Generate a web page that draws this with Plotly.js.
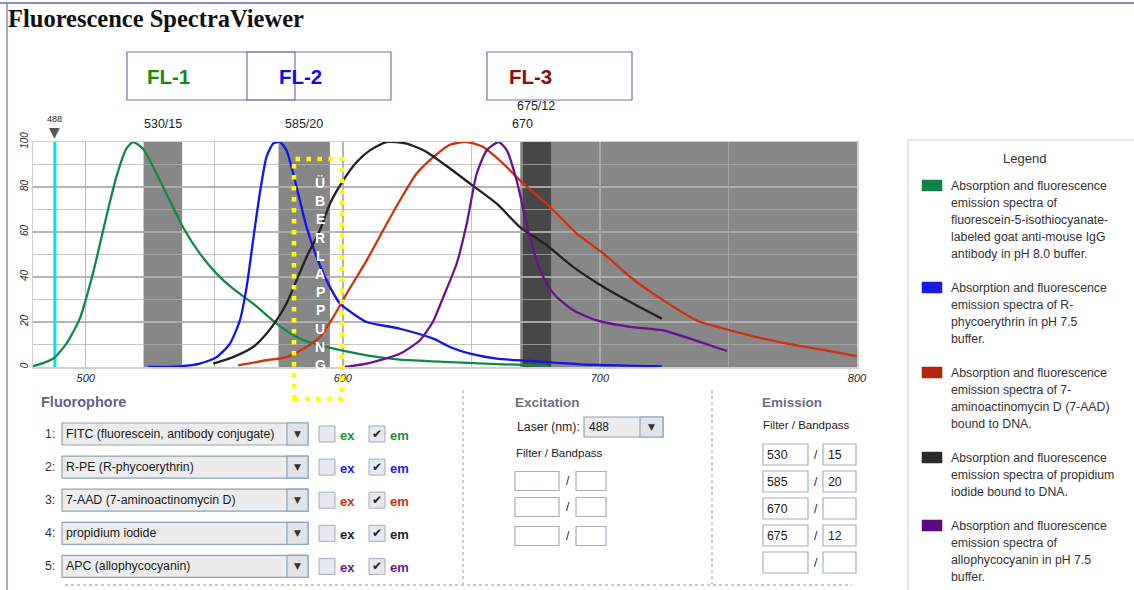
<!DOCTYPE html>
<html><head><meta charset="utf-8">
<script src="https://cdn.plot.ly/plotly-3.0.1.min.js"></script>
<style>html,body{margin:0;padding:0;background:#fff;}#chart{width:1134px;height:590px;}</style>
</head><body><div id="chart"></div>
<script>
// ---------------- DATA ----------------
const wlFITC = [479.5, 487.3, 492.5, 497.7, 502.8, 508, 511.9, 515.8, 518.4, 522.3, 527.5, 532.7, 537.9, 544.4, 550.9, 557.3, 565.1, 574.2, 583.3, 593.7, 609.3, 622.2, 641.7, 660, 680];
const emFITC = [0.3, 3.7, 10.4, 21.5, 41.5, 66.7, 84.4, 97, 100, 97, 86, 74, 62, 50.4, 41.5, 34.8, 28.2, 19.3, 12.6, 8.9, 5.2, 3.3, 2.2, 1.3, 0.5];

const wlRPE = [524.3, 536.6, 544.4, 550.9, 556.1, 560, 562.6, 565.1, 567.7, 570.3, 572.9, 575.5, 578.1, 580.7, 583.3, 585.9, 589.8, 593.7, 598.9, 604, 609.3, 622.2, 635.2, 641.7, 649.5, 659.9, 672.8, 692.3, 724.1];
const emRPE = [0, 0.3, 1.5, 4.4, 10.4, 20.8, 35.6, 56.3, 77, 93.3, 99.3, 100, 96.3, 86, 74, 62.2, 48.9, 38.5, 28.2, 23.7, 20, 17, 12.6, 8.9, 5.9, 3.7, 2.7, 1.2, 0.3];

const wl7AAD = [559.3, 570.3, 578.1, 585.9, 591.1, 596.3, 601.5, 609.3, 615.7, 622.2, 628.7, 635.2, 641.7, 648.2, 654.6, 662.4, 670.2, 680.6, 691, 701.4, 711.8, 724.7, 737.7, 750.7, 763.6, 776.6, 789.6, 800];
const em7AAD = [0.7, 3, 4.4, 8.9, 13.3, 22.2, 32.6, 47.4, 60.8, 74, 86, 93.3, 98.8, 100, 97.8, 90.4, 81.5, 71.1, 59.3, 50.4, 40, 29.6, 20.7, 16.3, 12.6, 9.6, 7.1, 4.8];

const wlPI = [549.6, 557.3, 565.1, 570.3, 574.2, 578.1, 582, 585.9, 591.1, 595, 600.2, 605.4, 610.5, 617, 624.8, 632.6, 641.7, 649.5, 659.9, 668.9, 679.3, 689.7, 701.4, 711.8, 724.1];
const emPI = [1.5, 4.4, 8.9, 14.8, 20.7, 28.2, 38.5, 48.9, 60.8, 72.6, 83, 91.1, 96.3, 100, 99.3, 95.6, 88.2, 81.5, 72.6, 62.2, 54.1, 44.4, 35.6, 28.9, 21.5];

const wlAPC = [600.8, 609.3, 622.2, 630, 635, 639.1, 644.3, 648.2, 652.1, 656, 660.6, 663.8, 667.6, 671.5, 675.4, 679.3, 683.2, 689.7, 698.8, 711.8, 724.7, 735.1, 749.4];
const emAPC = [0, 1.5, 5.9, 11.9, 20, 31.1, 46, 63.7, 86, 96.3, 100, 96.3, 83, 63.7, 47.4, 37, 31.1, 25.2, 20.7, 17.8, 16.3, 12.6, 7.1];

const fluorophoreNames = ['FITC (fluorescein, antibody conjugate)', 'R-PE (R-phycoerythrin)', '7-AAD (7-aminoactinomycin D)', 'propidium iodide', 'APC (allophycocyanin)'];
const legendTexts = [
  'Absorption and fluorescence<br>emission spectra of<br>fluorescein-5-isothiocyanate-<br>labeled goat anti-mouse IgG<br>antibody in pH 8.0 buffer.',
  'Absorption and fluorescence<br>emission spectra of R-<br>phycoerythrin in pH 7.5<br>buffer.',
  'Absorption and fluorescence<br>emission spectra of 7-<br>aminoactinomycin D (7-AAD)<br>bound to DNA.',
  'Absorption and fluorescence<br>emission spectra of propidium<br>iodide bound to DNA.',
  'Absorption and fluorescence<br>emission spectra of<br>allophycocyanin in pH 7.5<br>buffer.'
];
const laserNm = 488;
const emFilterCenters = [530, 585, 670, 675];
const emBandpass = [15, 20, null, 12];
const flLabels = ['FL-1', 'FL-2', 'FL-3'];
const overlapLabel = 'ÜBERLAPPUNG';
const xTickVals = [500, 600, 700, 800];
const yTickVals = [0, 20, 40, 60, 80, 100];

// ---------------- STYLE / LAYOUT ----------------
const lineColors = ['#0f8a45', '#1212f2', '#cc330c', '#222222', '#6a128f'];
const swatchColors = ['#11804a', '#1a1ae6', '#b5250a', '#2a2a2a', '#5c0a80'];
const textColors = ['#1a8f3c', '#1a1aff', '#c8320a', '#222222', '#6a1b8a'];
const flColors = ['#148a14', '#0a0aff', '#8b0a0a'];
const seriesWl = [wlFITC, wlRPE, wl7AAD, wlPI, wlAPC];
const seriesEm = [emFITC, emRPE, em7AAD, emPI, emAPC];

const W = 1134, H = 590, ML = 33, MR = 277, MT = 142, MB = 223;
const PW = W - ML - MR, PH = H - MT - MB;
const PX = x => (x - ML) / PW;
const PY = y => (H - MB - y) / PH;
const FONT = 'Liberation Sans, Arial, sans-serif';
const xRange = [479.5, 800];

const shapes = [];
const annotations = [];
function rect(x0, y0, x1, y1, fill, line, lw, extra) {
  shapes.push(Object.assign({type: 'rect', xref: 'paper', yref: 'paper', x0: PX(x0), x1: PX(x1), y0: PY(y1), y1: PY(y0),
    fillcolor: fill, line: {color: line || 'rgba(0,0,0,0)', width: lw === undefined ? 1 : lw}, layer: 'above'}, extra || {}));
}
function seg(x0, y0, x1, y1, color, width, dash) {
  shapes.push({type: 'line', xref: 'paper', yref: 'paper', x0: PX(x0), x1: PX(x1), y0: PY(y0), y1: PY(y1),
    line: {color: color, width: width, dash: dash || 'solid'}, layer: 'above'});
}
function txt(x, y, text, size, color, opts) {
  annotations.push(Object.assign({xref: 'paper', yref: 'paper', x: PX(x), y: PY(y), text: text, showarrow: false,
    xanchor: 'left', yanchor: 'middle', borderpad: 0,
    font: {family: FONT, size: size, color: color}}, opts || {}));
}

// traces
const traces = [];
traces.push({x: [laserNm, laserNm], y: [0, 100], type: 'scatter', mode: 'lines', line: {color: '#00e5f0', width: 3}, hoverinfo: 'skip', showlegend: false});
for (let i = 0; i < 5; i++) {
  traces.push({x: seriesWl[i], y: seriesEm[i], type: 'scatter', mode: 'lines', name: fluorophoreNames[i],
    line: {color: lineColors[i], width: 2.3, shape: 'spline', smoothing: 0.6}, hoverinfo: 'skip', showlegend: false});
}

// filter bands (from filter arrays)
let prevC = null, row = 0;
emFilterCenters.forEach((c, i) => {
  const b = emBandpass[i];
  const x0 = b ? c - b / 2 : c;
  const x1 = b ? c + b / 2 : xRange[1];
  shapes.push({type: 'rect', xref: 'x', yref: 'y', x0: x0, x1: x1, y0: 0, y1: 100, fillcolor: 'rgba(0,0,0,0.47)', line: {width: 0}, layer: 'below'});
  row = (prevC !== null && Math.abs(c - prevC) < 10) ? row + 1 : 0;
  prevC = c;
  annotations.push({xref: 'x', yref: 'paper', x: c, y: PY(124 - row * 18), text: b ? c + '/' + b : String(c), showarrow: false,
    xanchor: 'center', yanchor: 'middle', font: {family: FONT, size: 12.5, color: '#222'}});
});

// laser marker
annotations.push({xref: 'x', yref: 'paper', x: laserNm, y: PY(132), text: '▼', showarrow: false, xanchor: 'center', yanchor: 'middle', font: {family: 'DejaVu Sans', size: 14, color: '#555'}});
annotations.push({xref: 'x', yref: 'paper', x: laserNm, y: PY(119), text: String(laserNm), showarrow: false, xanchor: 'center', yanchor: 'middle', font: {family: FONT, size: 9, color: '#222'}});

// page frame
seg(0, 3, W, 3, '#8c8cc0', 2);
seg(7, 3, 7, H, '#8c8cc0', 1.5);

// FL boxes
const flBoxes = [[127, 295, 168], [247, 391, 300], [487, 632, 530]];
flBoxes.forEach((bx, i) => {
  rect(bx[0], 52, bx[1], 100, 'rgba(0,0,0,0)', '#7373b3', 1.2);
  txt(bx[2], 76, '<b>' + flLabels[i] + '</b>', 20.5, flColors[i], {xanchor: 'center'});
});

// overlap highlight
rect(294, 159, 342, 399, 'rgba(0,0,0,0)', '#ffff00', 4, {line: {color: '#ffff00', width: 4.5, dash: '4.5px,6.5px'}});
overlapLabel.split('').forEach((ch, k) => {
  txt(320, 183 + k * 18.2, '<b>' + ch + '</b>', 14, '#ffffff', {xanchor: 'center'});
});

// Legend panel
rect(908, 140, 1140, 600, '#ffffff', '#cccccc', 1, {layer: 'below'});
txt(1024, 158, 'Legend', 13, '#333', {xanchor: 'center'});
let ly = 186;
legendTexts.forEach((t, i) => {
  const lines = t.split('<br>');
  rect(922, ly - 6, 942, ly + 5, swatchColors[i], swatchColors[i], 0.5);
  lines.forEach((ln, k) => txt(950, ly + k * 17, ln, 12.3, '#333'));
  ly += lines.length * 17 + 17;
});

// Fluorophore section
txt(40, 402, '<b>Fluorophore</b>', 14.5, '#6a5d8a');
fluorophoreNames.forEach((name, i) => {
  const y = 434 + i * 33.1;
  txt(56, y, (i + 1) + ':', 12.3, '#333', {xanchor: 'right'});
  rect(62, y - 11, 308, y + 11, '#ececec', '#8fa3b6', 1.2);
  rect(287, y - 11, 308, y + 11, '#e0e4e9', '#8fa3b6', 1.2);
  txt(297.5, y, '▼', 9, '#333', {xanchor: 'center', font: {family: 'DejaVu Sans', size: 9, color: '#333'}});
  txt(65, y, name, 12.3, '#1a1a1a');
  rect(319, y - 8, 335, y + 8, '#e6eaf0', '#a3abb8', 1);
  txt(339, y + 1, '<b>ex</b>', 13, textColors[i]);
  rect(369, y - 8, 385, y + 8, '#e6eaf0', '#a3abb8', 1);
  txt(377, y, '✔', 11, '#222', {xanchor: 'center', font: {family: 'DejaVu Sans', size: 12, color: '#222'}});
  txt(389, y + 1, '<b>em</b>', 13, textColors[i]);
});

// separators
seg(463, 390, 463, 584, '#999', 1, 'dot');
seg(712, 390, 712, 584, '#999', 1, 'dot');
seg(65, 585, 852, 585, '#999', 1, 'dot');

// Excitation section
txt(514, 402, '<b>Excitation</b>', 13.5, '#6e6e80');
txt(516, 427, 'Laser (nm):', 12.3, '#222');
rect(584, 417, 663, 437, '#ececec', '#8fa3b6', 1.2);
rect(640, 417, 663, 437, '#e0e4e9', '#8fa3b6', 1.2);
txt(651.5, 427, '▼', 9, '#333', {xanchor: 'center', font: {family: 'DejaVu Sans', size: 9, color: '#333'}});
txt(588, 427, String(laserNm), 12, '#1a1a1a');
txt(515, 453, 'Filter / Bandpass', 11.5, '#222');
[481, 507, 536].forEach(y => {
  rect(515, y - 9.5, 559, y + 9.5, '#ffffff', '#a8b0bc', 1.2);
  rect(576, y - 9.5, 606, y + 9.5, '#ffffff', '#a8b0bc', 1.2);
  txt(567.5, y, '/', 12, '#222', {xanchor: 'center'});
});

// Emission section
txt(761, 402, '<b>Emission</b>', 13.5, '#6e6e80');
txt(762, 425, 'Filter / Bandpass', 11.5, '#222');
for (let i = 0; i < 5; i++) {
  const y = 454.5 + i * 27;
  rect(763, y - 10.5, 808, y + 10.5, '#ffffff', '#a8b0bc', 1.2);
  rect(823, y - 10.5, 856, y + 10.5, '#ffffff', '#a8b0bc', 1.2);
  txt(815.5, y, '/', 12, '#222', {xanchor: 'center'});
  if (i < emFilterCenters.length) {
    txt(766, y, String(emFilterCenters[i]), 12.3, '#1a1a1a');
    if (emBandpass[i]) txt(827, y, String(emBandpass[i]), 12.3, '#1a1a1a');
  }
}

const gridC = 'rgba(175,175,175,0.72)';
const layout = {
  width: W, height: H,
  margin: {l: ML, r: MR, t: MT, b: MB, pad: 0},
  paper_bgcolor: '#ffffff', plot_bgcolor: '#ffffff',
  showlegend: false,
  title: {text: '<b>Fluorescence SpectraViewer</b>', font: {family: 'Liberation Serif, Times New Roman, serif', size: 24.5, color: '#111'},
    xref: 'container', yref: 'container', x: 8 / W, xanchor: 'left', y: 1 - 18 / H, yanchor: 'middle'},
  xaxis: {range: xRange, tickvals: xTickVals, ticktext: xTickVals.map(String), showgrid: true, gridcolor: gridC, gridwidth: 1.5,
    minor: {dtick: 50, tick0: 500, showgrid: true, gridcolor: gridC, gridwidth: 1.5},
    zeroline: false, showline: true, mirror: true, linecolor: '#cfcfcf', linewidth: 1.5, ticks: '',
    tickfont: {family: FONT, size: 11, color: '#222', style: 'italic'}, fixedrange: true},
  yaxis: {range: [0, 100], tickvals: yTickVals, ticktext: yTickVals.map(String), tickangle: -90, showgrid: true, gridcolor: gridC, gridwidth: 1.5,
    minor: {dtick: 10, tick0: 0, showgrid: true, gridcolor: gridC, gridwidth: 1.5},
    zeroline: false, showline: true, mirror: true, linecolor: '#cfcfcf', linewidth: 1.5, ticks: '',
    tickfont: {family: FONT, size: 10, color: '#222', style: 'italic'}, fixedrange: true},
  shapes: shapes,
  annotations: annotations
};
Plotly.newPlot('chart', traces, layout, {displayModeBar: false, staticPlot: true});
</script>
</body></html>
